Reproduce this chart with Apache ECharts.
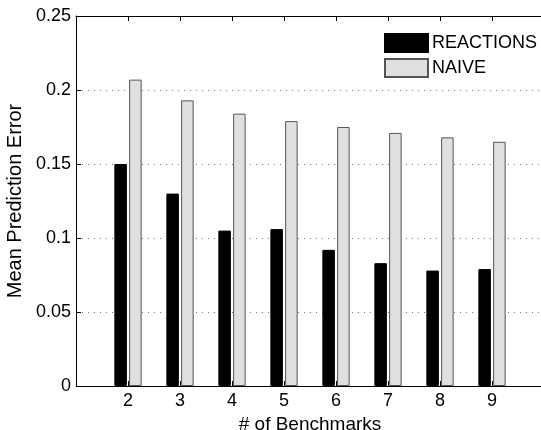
<!DOCTYPE html>
<html>
<head>
<meta charset="utf-8">
<script src="https://cdn.jsdelivr.net/npm/echarts@6/dist/echarts.min.js"></script>
<style>
  html, body { margin: 0; padding: 0; background: #fff; overflow: hidden; }
  #main { width: 560px; height: 430px; }
</style>
</head>
<body>
<div id="main"></div>
<script>
var benchmarks = [2, 3, 4, 5, 6, 7, 8, 9];
var reactions = [0.150, 0.130, 0.105, 0.106, 0.092, 0.083, 0.078, 0.079];
var naive = [0.207, 0.193, 0.184, 0.179, 0.175, 0.171, 0.168, 0.165];
var yTicks = [0, 0.05, 0.1, 0.15, 0.2, 0.25];

var chart = echarts.init(document.getElementById('main'));
var font = 'Liberation Sans, Arial, Helvetica, sans-serif';

function pairs(vals) {
    return benchmarks.map(function (b, i) { return [b, vals[i]]; });
}

var option = {
    animation: false,
    textStyle: { fontFamily: font },
    grid: { left: 76, top: 16, right: 16, bottom: 44, outerBoundsMode: 'none', containLabel: false },
    legend: {
        left: 379,
        top: 28,
        orient: 'vertical',
        icon: 'rect',
        itemWidth: 43,
        itemHeight: 18,
        itemGap: 5,
        textStyle: { fontSize: 18, color: '#000', padding: [0, 0, 0, -1] },
        data: ['REACTIONS', 'NAIVE']
    },
    xAxis: [{
        type: 'value',
        min: 1,
        max: 10,
        interval: 1,
        name: '# of Benchmarks',
        nameLocation: 'middle',
        nameGap: 24,
        nameTextStyle: { fontSize: 19, color: '#000' },
        axisLine: { lineStyle: { color: '#000', width: 1 } },
        axisTick: { inside: true, length: 5, lineStyle: { color: '#000' } },
        axisLabel: {
            fontSize: 18, color: '#000', margin: 6,
            formatter: function (v) { return benchmarks.indexOf(v) >= 0 ? String(v) : ''; }
        },
        splitLine: { show: false }
    }, {
        type: 'value',
        position: 'top',
        min: 1,
        max: 10,
        interval: 1,
        axisLine: { show: true, lineStyle: { color: '#000', width: 1 } },
        axisTick: { inside: true, length: 5, lineStyle: { color: '#000' } },
        axisLabel: { show: false },
        splitLine: { show: false }
    }],
    yAxis: {
        type: 'value',
        min: yTicks[0],
        max: yTicks[yTicks.length - 1],
        interval: 0.05,
        name: 'Mean Prediction Error',
        nameLocation: 'middle',
        nameGap: 48,
        nameTextStyle: { fontSize: 20, color: '#000' },
        axisLine: { show: true, lineStyle: { color: '#000', width: 1 } },
        axisTick: { show: true, inside: true, length: 5, lineStyle: { color: '#000' } },
        axisLabel: {
            fontSize: 18, color: '#000', margin: 5,
            formatter: function (v) { return String(+v.toFixed(2)); }
        },
        splitLine: { show: true, lineStyle: { color: '#777', type: [1, 5], width: 1 } }
    },
    series: [{
        name: 'REACTIONS',
        type: 'bar',
        xAxisIndex: 0,
        barWidth: 12.5,
        barGap: '18%',
        itemStyle: { color: '#000', borderColor: '#000', borderWidth: 1 },
        data: pairs(reactions)
    }, {
        name: 'NAIVE',
        type: 'bar',
        xAxisIndex: 0,
        barWidth: 12.5,
        barGap: '18%',
        itemStyle: { color: '#e0e0e0', borderColor: '#555', borderWidth: 1 },
        data: pairs(naive)
    }]
};

chart.setOption(option);
</script>
</body>
</html>
